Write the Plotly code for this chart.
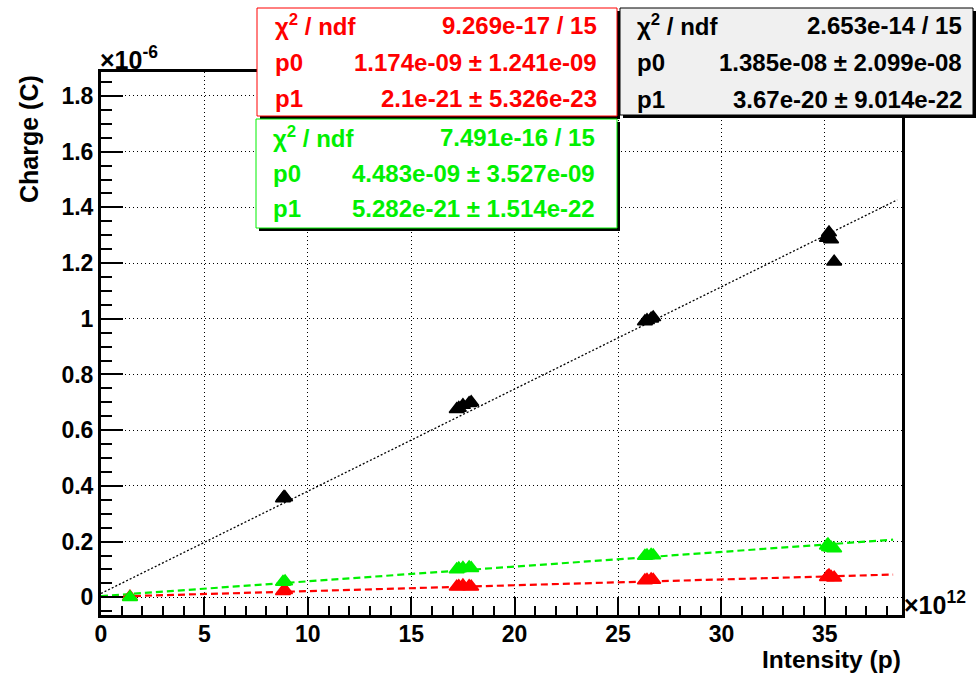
import plotly.graph_objects as go

# ---------------- data (intensity in units of 1e12 p, charge in units of 1e-6 C)
x_black = [8.8, 8.85, 8.9, 17.2, 17.3, 17.5, 17.8, 17.9, 26.3, 26.4, 26.6, 26.7,
           35.1, 35.15, 35.2, 35.3, 35.45]
y_black = [0.355, 0.36, 0.358, 0.675, 0.68, 0.69, 0.697, 0.70, 0.99, 0.995, 1.0, 1.005,
           1.29, 1.30, 1.31, 1.285, 1.205]

x_col = [1.4, 8.8, 8.9, 17.2, 17.3, 17.5, 17.8, 17.9, 26.3, 26.4, 26.6, 26.7,
         35.1, 35.15, 35.2, 35.3, 35.45]
y_green = [0.0, 0.055, 0.057, 0.100, 0.103, 0.105, 0.107, 0.104, 0.148, 0.150, 0.152, 0.150,
           0.185, 0.19, 0.18, 0.178, 0.175]
y_red = [0.002, 0.022, 0.025, 0.038, 0.040, 0.042, 0.040, 0.038, 0.060, 0.062, 0.064, 0.062,
         0.072, 0.075, 0.078, 0.073, 0.070]

# fit results (p0 in C, p1 in C/p)
fit_black = {"chi2": "2.653e-14 / 15", "p0": 1.385e-08, "p0e": "1.385e-08 ± 2.099e-08",
             "p1": 3.67e-20, "p1e": "3.67e-20 ± 9.014e-22", "xmax": 38.5}
fit_red = {"chi2": "9.269e-17 / 15", "p0": 1.174e-09, "p0e": "1.174e-09 ± 1.241e-09",
           "p1": 2.1e-21, "p1e": "2.1e-21 ± 5.326e-23", "xmax": 38.3}
fit_green = {"chi2": "7.491e-16 / 15", "p0": 4.483e-09, "p0e": "4.483e-09 ± 3.527e-09",
             "p1": 5.282e-21, "p1e": "5.282e-21 ± 1.514e-22", "xmax": 38.3}

x_ticks = [0, 5, 10, 15, 20, 25, 30, 35]
y_ticks = [0, 0.2, 0.4, 0.6, 0.8, 1.0, 1.2, 1.4, 1.6, 1.8]

FONT = "Liberation Sans"
W_FIG, H_FIG = 977, 674
L, R, T, B = 101, 902, 72, 615
PW, PH = R - L, B - T


def px(x):
    return (x - L) / PW


def py(y):
    return (B - y) / PH


def fit_line(f):
    xs = [0.0, f["xmax"]]
    ys = [(f["p0"] + f["p1"] * (x * 1e12)) * 1e6 for x in xs]
    return xs, ys


fig = go.Figure()

RED = "#ff0000"
GREEN = "#00f000"

# fit lines
for f, col, dash, w in [(fit_black, "black", "2px,2px", 1.3),
                        (fit_red, RED, "7px,4px", 2.2),
                        (fit_green, GREEN, "7px,4px", 2.2)]:
    xs, ys = fit_line(f)
    fig.add_trace(go.Scatter(x=xs, y=ys, mode="lines",
                             line=dict(color=col, width=w, dash=dash),
                             hoverinfo="skip", showlegend=False))

# data points
for xs, ys, col in [(x_black, y_black, "black"), (x_col, y_red, RED), (x_col, y_green, GREEN)]:
    fig.add_trace(go.Scatter(x=xs, y=ys, mode="markers",
                             marker=dict(symbol="triangle-up", size=13, color=col,
                                         line=dict(color=col, width=1.5)),
                             showlegend=False, cliponaxis=False))

tickfont = dict(family=FONT, size=23, color="black", weight="bold")

fig.update_xaxes(range=[0, 38.73], tickvals=x_ticks, ticktext=[str(v) for v in x_ticks],
                 ticks="inside", ticklen=18, tickwidth=2, tickcolor="black",
                 ticklabelstandoff=-4,
                 minor=dict(dtick=1, tick0=0, ticks="inside", ticklen=9, tickwidth=2,
                            tickcolor="black", showgrid=False),
                 showgrid=True, gridcolor="black", gridwidth=1, griddash="1px,3px",
                 showline=True, linecolor="black", linewidth=3, mirror=True,
                 zeroline=False, tickfont=tickfont)
fig.update_yaxes(range=[-0.0636, 1.886], tickvals=y_ticks,
                 ticktext=[("%g" % v) for v in y_ticks],
                 ticks="inside", ticklen=22, tickwidth=2, tickcolor="black",
                 minor=dict(dtick=0.05, tick0=0, ticks="inside", ticklen=11, tickwidth=2,
                            tickcolor="black", showgrid=False),
                 showgrid=True, gridcolor="black", gridwidth=1, griddash="1px,3px",
                 showline=True, linecolor="black", linewidth=3, mirror=True,
                 zeroline=False, tickfont=tickfont)

shapes = []
annotations = []


def stat_box(x0, y0, x1, y1, border, fill, fcolor, lab_x, val_x, rows_y, f):
    # shadow
    shapes.append(dict(type="rect", xref="paper", yref="paper",
                       x0=px(x0 + 3), x1=px(x1 + 3), y0=py(y1 + 3), y1=py(y0 + 3),
                       fillcolor="black", line=dict(width=0), layer="above"))
    shapes.append(dict(type="rect", xref="paper", yref="paper",
                       x0=px(x0), x1=px(x1), y0=py(y1), y1=py(y0),
                       fillcolor=fill, line=dict(color=border, width=1), layer="above"))
    labels = ["χ<sup>2</sup> / ndf", "p0", "p1"]
    values = [f["chi2"], f["p0e"], f["p1e"]]
    fnt = dict(family=FONT, size=24, color=fcolor, weight="bold")
    for lab, val, yy in zip(labels, values, rows_y):
        annotations.append(dict(xref="paper", yref="paper", x=px(lab_x), y=py(yy),
                                xanchor="left", yanchor="middle", text=lab,
                                showarrow=False, font=fnt))
        annotations.append(dict(xref="paper", yref="paper", x=px(val_x), y=py(yy),
                                xanchor="right", yanchor="middle", text=val,
                                showarrow=False, font=fnt))


stat_box(620, 8, 973, 115, "black", "#f0f0f0", "black", 635, 964, [25, 63, 100], fit_black)
stat_box(257, 8, 617, 116, RED, "white", RED, 273, 599, [25, 62, 98], fit_red)
stat_box(256, 119, 617, 228, GREEN, "white", GREEN, 271, 597, [137, 173, 208], fit_green)

# axis titles
annotations.append(dict(xref="paper", yref="paper", x=px(29), y=py(139), text="Charge (C)",
                        textangle=-90, xanchor="center", yanchor="middle", showarrow=False,
                        font=dict(family=FONT, size=25, color="black", weight="bold")))
annotations.append(dict(xref="paper", yref="paper", x=px(902), y=py(659), text="Intensity (p)",
                        xanchor="right", yanchor="middle", showarrow=False, borderpad=0,
                        font=dict(family=FONT, size=24.5, color="black", weight="bold")))
# exponents
annotations.append(dict(xref="paper", yref="paper", x=px(98), y=py(58),
                        text="×10<sup>-6</sup>", xanchor="left", yanchor="middle",
                        showarrow=False,
                        font=dict(family=FONT, size=25, color="black", weight="bold")))
annotations.append(dict(xref="paper", yref="paper", x=px(902), y=py(603),
                        text="×10<sup>12</sup>", xanchor="left", yanchor="middle",
                        showarrow=False,
                        font=dict(family=FONT, size=25, color="black", weight="bold")))

fig.update_layout(width=W_FIG, height=H_FIG,
                  margin=dict(l=L, r=W_FIG - R, t=T, b=H_FIG - B, pad=0),
                  paper_bgcolor="white", plot_bgcolor="white",
                  shapes=shapes, annotations=annotations, showlegend=False)

fig.write_html("out.html", config={"displayModeBar": False},
               post_script="document.body.style.margin='0';document.body.style.overflow='hidden';")
